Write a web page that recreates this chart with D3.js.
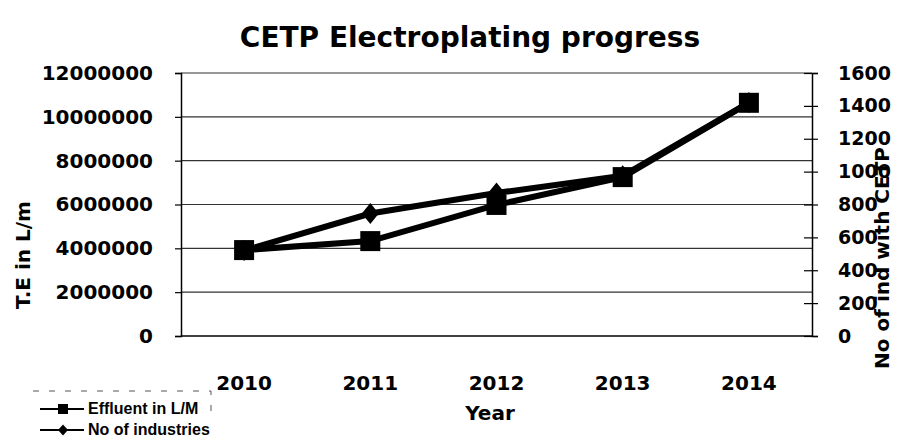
<!DOCTYPE html>
<html><head><meta charset="utf-8">
<script src="https://cdn.jsdelivr.net/npm/d3@7"></script>
<style>body{margin:0;background:#fff}svg{display:block}</style>
</head><body>
<svg id="c" width="899" height="440"></svg>
<script>
const years = ["2010","2011","2012","2013","2014"];
const effluent = [3920000, 4330000, 5980000, 7250000, 10640000];
const industries = [520, 745, 870, 975, 1420];
const leftTicks = [0,2000000,4000000,6000000,8000000,10000000,12000000];
const rightTicks = [0,200,400,600,800,1000,1200,1400,1600];

const svg = d3.select("#c");
const L=181, R=812, T=73, B=336;
const x = d3.scaleBand().domain(years).range([L,R]);
const yL = d3.scaleLinear().domain([0,12000000]).range([B,T]);
const yR = d3.scaleLinear().domain([0,1600]).range([B,T]);
const font = "'DejaVu Sans', sans-serif";

svg.append("text").attr("x",470).attr("y",47).attr("text-anchor","middle")
  .attr("font-family",font).attr("font-weight","bold").attr("font-size",28)
  .text("CETP Electroplating progress");

// gridlines
svg.append("g").selectAll("line").data(leftTicks.slice(1)).join("line")
  .attr("x1",L).attr("x2",R).attr("y1",d=>yL(d)).attr("y2",d=>yL(d))
  .attr("stroke","#333").attr("stroke-width",1.2);

// left axis
const gl = svg.append("g").attr("transform",`translate(${L},0)`)
  .call(d3.axisLeft(yL).tickValues(leftTicks).tickFormat(d3.format("d")).tickSize(6).tickPadding(22));
gl.select(".domain").attr("stroke","#000").attr("stroke-width",1.5);
gl.selectAll(".tick line").attr("stroke","#000").attr("stroke-width",1.2);
gl.selectAll("text").attr("font-family",font).attr("font-weight","bold").attr("font-size",20).attr("fill","#000");

// right axis
const gr = svg.append("g").attr("transform",`translate(${R},0)`)
  .call(d3.axisRight(yR).tickValues(rightTicks).tickFormat(d3.format("d")).tickSize(6).tickPadding(20));
gr.select(".domain").attr("stroke","#000").attr("stroke-width",1.5);
gr.selectAll(".tick line").attr("x1",-8).attr("stroke","#000").attr("stroke-width",1.2);
gr.selectAll("text").attr("font-family",font).attr("font-weight","bold").attr("font-size",19).attr("fill","#000");

// bottom axis line
svg.append("line").attr("x1",L).attr("x2",R).attr("y1",B).attr("y2",B).attr("stroke","#000").attr("stroke-width",1.5);

// x labels
svg.append("g").selectAll("text").data(years).join("text")
  .attr("x",d=>x(d)+x.bandwidth()/2).attr("y",390).attr("text-anchor","middle")
  .attr("font-family",font).attr("font-weight","bold").attr("font-size",20).text(d=>d);

svg.append("text").attr("x",490).attr("y",420).attr("text-anchor","middle")
  .attr("font-family",font).attr("font-weight","bold").attr("font-size",20).text("Year");

svg.append("text").attr("transform","translate(30,255) rotate(-90)").attr("text-anchor","middle")
  .attr("font-family",font).attr("font-weight","bold").attr("font-size",20).text("T.E in L/m");
svg.append("text").attr("transform","translate(889,258) rotate(-90)").attr("text-anchor","middle")
  .attr("font-family",font).attr("font-weight","bold").attr("font-size",20).text("No of ind with CETP");

const cx = d=>x(d)+x.bandwidth()/2;
const diamond = (w,h)=>`M0,${-h/2}L${w/2},0L0,${h/2}L${-w/2},0Z`;
// industries line
svg.append("path").datum(industries).attr("fill","none").attr("stroke","#000").attr("stroke-width",6)
  .attr("d",d3.line().x((d,i)=>cx(years[i])).y(d=>yR(d)));
svg.append("g").selectAll("path").data(industries).join("path")
  .attr("transform",(d,i)=>`translate(${cx(years[i])},${yR(d)})`)
  .attr("d",diamond(17,21)).attr("fill","#000");
// effluent line
svg.append("path").datum(effluent).attr("fill","none").attr("stroke","#000").attr("stroke-width",6)
  .attr("d",d3.line().x((d,i)=>cx(years[i])).y(d=>yL(d)));
svg.append("g").selectAll("rect").data(effluent).join("rect")
  .attr("x",(d,i)=>cx(years[i])-10).attr("y",d=>yL(d)-10).attr("width",20).attr("height",20).attr("fill","#000");

// legend
const lg = svg.append("g");
lg.append("path").attr("d","M33,391 H211 V412").attr("fill","none").attr("stroke","#555").attr("stroke-width",1).attr("stroke-dasharray","6,10");
const items = [["Effluent in L/M","square",409],["No of industries","diamond",430]];
items.forEach(([lab,sym,yy])=>{
  lg.append("line").attr("x1",40).attr("x2",84).attr("y1",yy).attr("y2",yy).attr("stroke","#000").attr("stroke-width",2);
  if(sym==="square") lg.append("rect").attr("x",58).attr("y",yy-5).attr("width",10).attr("height",10).attr("fill","#000");
  else lg.append("path").attr("transform",`translate(63,${yy})`).attr("d",diamond(10,11)).attr("fill","#000");
  lg.append("text").attr("x",88).attr("y",yy+5).attr("font-family","'Liberation Sans Narrow','Liberation Sans',sans-serif")
    .attr("font-weight","bold").attr("font-size",16).text(lab);
});
</script>
</body></html>
